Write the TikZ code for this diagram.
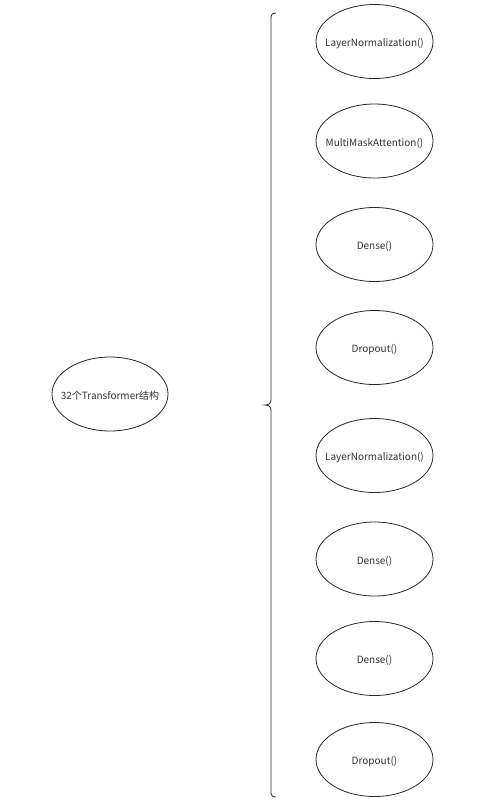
\documentclass[tikz,border=0pt]{standalone}
\usepackage{fontspec}
\setmainfont{Noto Sans CJK SC}
\usetikzlibrary{shapes.geometric}
\definecolor{txt}{HTML}{333333}
\newcommand{\zw}[1]{\makebox[0pt]{#1}}
\begin{document}
\begin{tikzpicture}[x=1pt,y=1pt,
  oval/.style={ellipse,draw=black!85,line width=0.8pt,minimum width=117pt,minimum height=74pt,inner sep=0pt,
    font=\fontsize{10}{12}\selectfont,text=txt,text height=10.8pt,text depth=0pt},
  bracestyle/.style={draw=black!85,line width=0.8pt}]
\useasboundingbox (0,0) rectangle (486,-807);
\node[oval,minimum width=116pt] (root) at (110,-394) {\zw{32个Transformer结构}};
\node[oval] (n1) at (374.5,-41.5) {\zw{LayerNormalization()}};
\node[oval] (n2) at (374.5,-141) {\zw{MultiMaskAttention()}};
\node[oval] (n3) at (374.5,-244.5) {\zw{Dense()}};
\node[oval] (n4) at (374.5,-347.5) {\zw{Dropout()}};
\node[oval] (n5) at (374.5,-455.5) {\zw{LayerNormalization()}};
\node[oval] (n6) at (374.5,-559) {\zw{Dense()}};
\node[oval] (n7) at (374.5,-658.5) {\zw{Dense()}};
\node[oval] (n8) at (374.5,-759.5) {\zw{Dropout()}};
\coordinate (btop) at (276,-13);
\coordinate (btip) at (265,-405);
\coordinate (bbot) at (276,-797);
\draw[bracestyle] (btop) .. controls (272.5,-13) and (271,-14.5) .. (271,-18)
  -- (271,-400) .. controls (271,-403.5) and (268.5,-405) .. (btip)
  .. controls (268.5,-405) and (271,-406.5) .. (271,-410)
  -- (271,-792) .. controls (271,-795.5) and (272.5,-797) .. (bbot);
\end{tikzpicture}
\end{document}
